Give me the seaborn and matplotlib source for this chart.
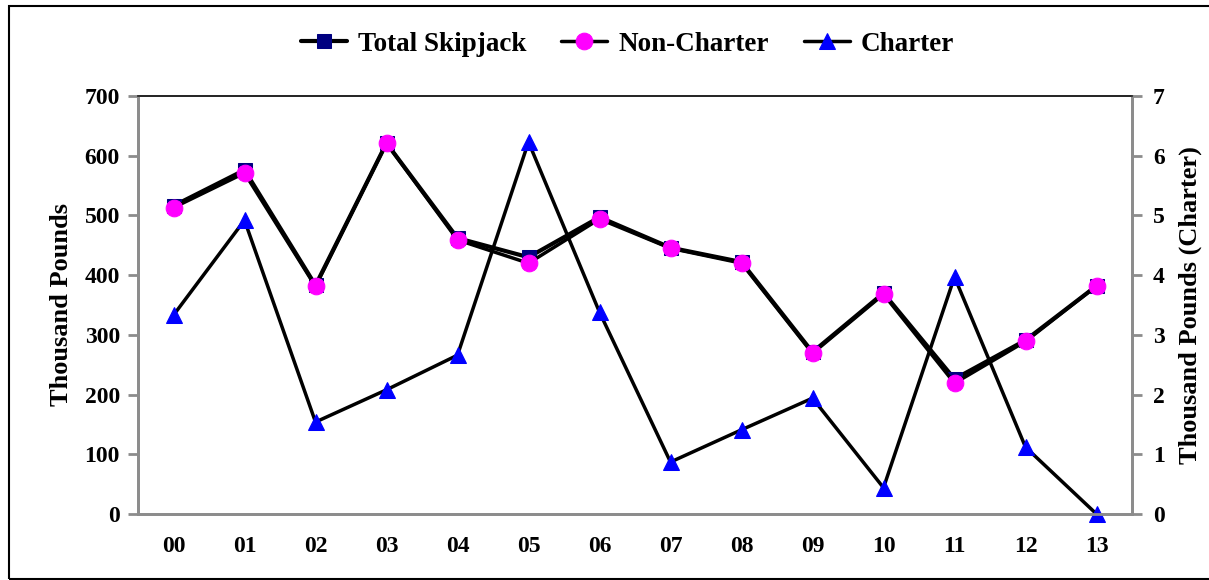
import numpy as np
import pandas as pd
import matplotlib
matplotlib.use("Agg")
import matplotlib.pyplot as plt
from matplotlib.patches import Rectangle
import seaborn as sns

# =========================
# Data
# =========================
years = ["00", "01", "02", "03", "04", "05", "06", "07", "08", "09", "10", "11", "12", "13"]
total_skipjack = [516, 576, 383, 621, 462, 430, 497, 446, 422, 271, 370, 226, 291, 382]
non_charter = [513, 571, 381, 621, 459, 420, 494, 445, 420, 269, 368, 219, 289, 382]
charter = [3.33, 4.92, 1.54, 2.08, 2.66, 6.23, 3.38, 0.87, 1.41, 1.94, 0.44, 3.97, 1.12, 0.0]

df = pd.DataFrame({
    "year": years,
    "Total Skipjack": total_skipjack,
    "Non-Charter": non_charter,
    "Charter": charter,
})
df["pos"] = np.arange(len(df))

# =========================
# Style
# =========================
sns.set_style("white")
plt.rcParams["font.family"] = ["Liberation Serif", "DejaVu Serif"]
plt.rcParams["font.weight"] = "bold"
plt.rcParams["text.color"] = "black"
plt.rcParams["axes.labelcolor"] = "black"
plt.rcParams["xtick.labelcolor"] = "black"
plt.rcParams["ytick.labelcolor"] = "black"

GRAY = "#8c8c8c"

fig = plt.figure(figsize=(12.09, 5.8), dpi=100)
ax = fig.add_axes([138 / 1209, 66 / 580, 994 / 1209, 418 / 580])
ax2 = ax.twinx()

# =========================
# Lines
# =========================
sns.lineplot(data=df, x="pos", y="Total Skipjack", ax=ax, color="black", linewidth=3,
             marker="s", markersize=10, markerfacecolor="#000080", markeredgecolor="#000080",
             label="Total Skipjack", legend=False, clip_on=False)
sns.lineplot(data=df, x="pos", y="Non-Charter", ax=ax, color="black", linewidth=2.5,
             marker="o", markersize=12, markerfacecolor="#ff00ff", markeredgecolor="#ff00ff",
             label="Non-Charter", legend=False, clip_on=False)
sns.lineplot(data=df, x="pos", y="Charter", ax=ax2, color="black", linewidth=2.5,
             marker="^", markersize=12, markerfacecolor="#0000ff", markeredgecolor="#0000ff",
             label="Charter", legend=False, clip_on=False)

# =========================
# Axes
# =========================
ax.set_xlim(-0.5, len(years) - 0.5)
ax.set_ylim(0, 700)
ax2.set_ylim(0, 7)
ax.set_yticks(np.arange(0, 701, 100))
ax2.set_yticks(np.arange(0, 8, 1))

ax.set_xticks(np.arange(-0.5, len(years)))
ax.set_xticklabels([])
ax.set_xticks(df["pos"], minor=True)
ax.set_xticklabels(years, minor=True)
ax.tick_params(axis="x", which="major", direction="out", length=7, width=2, color=GRAY)
ax.tick_params(axis="x", which="minor", length=0, pad=16, labelsize=17)
ax.tick_params(axis="y", direction="out", length=7, width=2, color=GRAY, labelsize=17, pad=6)
ax2.tick_params(axis="y", direction="out", length=7, width=2, color=GRAY, labelsize=17, pad=8)
for lab in ax.get_xticklabels(minor=True) + ax.get_yticklabels() + ax2.get_yticklabels():
    lab.set_fontweight("bold")

ax.set_xlabel("")
ax.set_ylabel("Thousand Pounds", fontsize=19, fontweight="bold", labelpad=8)
ax2.set_ylabel("Thousand Pounds (Charter)", fontsize=19, fontweight="bold", labelpad=10)

for a in (ax, ax2):
    for side in ("left", "right", "bottom"):
        a.spines[side].set_color(GRAY)
        a.spines[side].set_linewidth(2)
    a.spines["top"].set_color("#222222")
    a.spines["top"].set_linewidth(1.2)

# =========================
# Legend
# =========================
handles = ax.get_lines()[:2] + ax2.get_lines()[:1]
fig.legend(handles, ["Total Skipjack", "Non-Charter", "Charter"], loc="center",
           bbox_to_anchor=(0.519, 0.924), ncol=3, frameon=False, handlelength=1.7,
           columnspacing=1.3, handletextpad=0.4, prop={"size": 19.5, "weight": "bold"})

# outer border of the chart area
fig.patches.append(Rectangle((9 / 1209, 1 / 580), 1.1, 573 / 580, transform=fig.transFigure,
                             fill=False, edgecolor="black", linewidth=1.5))

fig.savefig("out.png", dpi=100)
